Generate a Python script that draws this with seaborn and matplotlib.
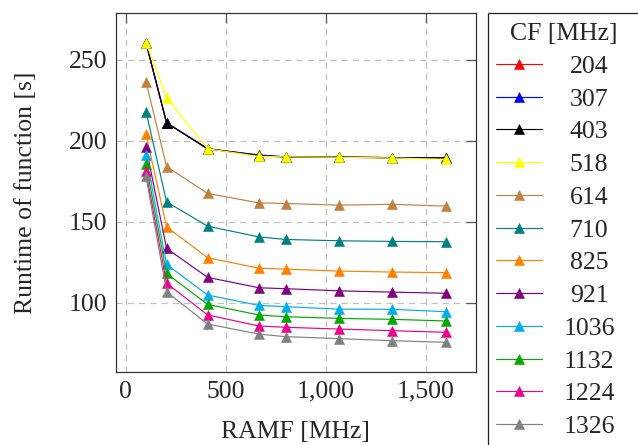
import numpy as np
import pandas as pd
import seaborn as sns
from matplotlib import pyplot as plt
from matplotlib.patches import Rectangle

# RAMF values on the x axis
ramf = [102, 205, 410, 666, 800, 1065, 1331, 1600]

# CF values (legend) and their colours
cf_labels = ['204', '307', '403', '518', '614', '710', '825', '921',
             '1036', '1132', '1224', '1326']
colors = ['#ff0000', '#0000ff', '#000000', '#ffff00', '#bf8040', '#008080',
          '#ff8000', '#800080', '#00aeef', '#00a800', '#ec008c', '#808080']

# runtime of function [s], one list per CF
rt_204 = [260.5, 211.0, 195.0, 191.0, 190.0, 190.0, 189.5, 189.5]
rt_307 = [260.5, 211.0, 195.0, 191.2, 190.0, 190.0, 189.5, 189.5]
rt_403 = [260.5, 211.0, 195.0, 190.8, 189.8, 189.8, 189.3, 189.2]
rt_518 = [260.5, 226.5, 195.0, 190.3, 190.0, 189.8, 189.3, 188.5]
rt_614 = [236.5, 184.0, 167.4, 161.6, 161.2, 160.2, 160.7, 159.6]
rt_710 = [218.0, 162.2, 147.2, 140.6, 139.0, 138.2, 137.8, 137.6]
rt_825 = [204.0, 146.8, 127.7, 121.3, 120.7, 119.5, 118.9, 118.5]
rt_921 = [196.0, 133.5, 115.6, 109.2, 108.6, 107.3, 106.5, 105.8]
rt_1036 = [191.0, 123.6, 104.7, 98.3, 97.5, 96.0, 95.9, 94.4]
rt_1132 = [185.5, 118.0, 98.9, 92.4, 91.3, 90.3, 89.7, 88.7]
rt_1224 = [181.0, 112.0, 92.4, 85.6, 84.8, 83.7, 82.7, 81.7]
rt_1326 = [178.0, 106.7, 86.8, 80.6, 79.0, 77.8, 76.5, 75.5]

series = [rt_204, rt_307, rt_403, rt_518, rt_614, rt_710, rt_825, rt_921,
          rt_1036, rt_1132, rt_1224, rt_1326]

rows = []
for lab, vals in zip(cf_labels, series):
    for x, y in zip(ramf, vals):
        rows.append({'RAMF': x, 'Runtime': y, 'CF': lab})
df = pd.DataFrame(rows)

sns.set_style('white')
plt.rcParams['font.family'] = ['Liberation Serif', 'DejaVu Serif']
fs = 18.5

fig = plt.figure(figsize=(6.38, 4.45), dpi=100)
ax = fig.add_axes([116 / 638, 1 - 372.3 / 445, (475.7 - 116) / 638, (372.3 - 12.7) / 445])

palette = dict(zip(cf_labels, colors))
sns.lineplot(data=df, x='RAMF', y='Runtime', hue='CF', hue_order=cf_labels,
             palette=palette, marker='^', markersize=7.5, markeredgewidth=0.4,
             linewidth=0.85, legend=False, ax=ax, sort=False)
for line, c in zip(ax.lines, colors):
    line.set_markeredgecolor(c)
    line.set_markerfacecolor(c)

ax.margins(x=0.1, y=0.1)
ax.set_xticks([0, 500, 1000, 1500])
ax.set_xticklabels(['0', '500', '1,000', '1,500'])
ax.set_yticks([100, 150, 200, 250])
ax.grid(True, color='#c0c0c0', linestyle=(0, (5, 4)), linewidth=0.9)
ax.set_axisbelow(True)
ax.tick_params(direction='in', length=7, width=0.9, color='#555555',
               labelsize=fs, top=True, right=True, pad=6)
for s in ax.spines.values():
    s.set_color('#333333')
    s.set_linewidth(0.9)
ax.set_xlabel('RAMF [MHz]', fontsize=fs, labelpad=13)
ax.set_ylabel('Runtime of function [s]', fontsize=fs, labelpad=23)

# legend (box drawn separately so it runs off the figure like the original)
leg = ax.legend(ax.lines[:len(cf_labels)], cf_labels, title='CF [MHz]',
                loc='upper left', bbox_to_anchor=(496 / 638, 1 - 23 / 445),
                bbox_transform=fig.transFigure, frameon=False, fontsize=fs,
                title_fontsize=fs, handlelength=1.8, handletextpad=0.82,
                labelspacing=0.38, borderpad=0, borderaxespad=0)
digit = 0.5 * fs * fig.dpi / 72
for t in leg.get_texts():
    if len(t.get_text()) == 3:
        t.set_x(digit / 2)
leg.get_title().set_x(8)

fig.patches.append(Rectangle((487.5 / 638, -0.1), 0.5, 1 - 13 / 445 + 0.1,
                             transform=fig.transFigure, fill=False,
                             edgecolor='#222222', linewidth=0.9))

fig.savefig('out.png', dpi=100)
